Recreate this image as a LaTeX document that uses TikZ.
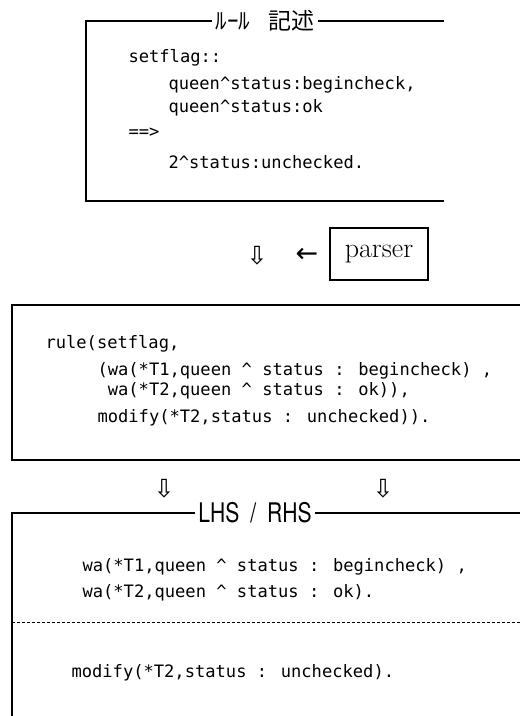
\documentclass[tikz,border=0pt]{standalone}
\usepackage{fontspec}
\newfontfamily\codefont{DejaVu Sans Mono}
\newfontfamily\jpfont{Noto Sans CJK JP}
\newfontfamily\symfont{DejaVu Sans}
\newfontfamily\headfont[FakeStretch=0.78]{TeX Gyre Heros}
\begin{document}
\begin{tikzpicture}[x=1bp,y=-1bp,line width=1.1bp,
  code/.style={anchor=base west,inner sep=0pt,
    font=\codefont\fontsize{17.1bp}{20bp}\selectfont},
  boxtitle/.style={inner sep=3bp},
  glyph/.style={inner sep=0pt,font=\symfont\fontsize{25bp}{27bp}\selectfont},
  sep/.style={line width=0.8bp,dash pattern=on 3bp off 2bp}]
\useasboundingbox (0,0) rectangle (520,716);

% rule description box (open on the right)
\node[boxtitle,font=\jpfont\fontsize{23bp}{25bp}\selectfont] (ruletitle) at (265,21) {ﾙｰﾙ\hspace{0.8em}記述};
\coordinate (r1) at (444,21);
\coordinate (r2) at (86,21);
\coordinate (r3) at (86,201);
\coordinate (r4) at (444,201);
\draw (ruletitle.east |- r1) -- (r1);
\draw (ruletitle.west |- r2) -- (r2) -- (r3) -- (r4);

\node[code] (s1) at (128,63)  {setflag::};
\node[code] (s2) at (168,90)  {queen\^{}status:begincheck,};
\node[code] (s3) at (168,113) {queen\^{}status:ok};
\node[code] (s4) at (128,138) {==>};
\node[code] (s5) at (168,168) {2\^{}status:unchecked.};

% parser step
\node[glyph] (down0) at (257,256) {⇩};
\node[glyph,font=\symfont\fontsize{27bp}{29bp}\selectfont] (left0) at (307,255) {←};
\node[draw,minimum width=98bp,minimum height=52bp,inner sep=0pt,
      font=\fontsize{28bp}{30bp}\selectfont] (parser) at (379,254) {parser};

% parsed rule box
\coordinate (m1) at (520,305);
\coordinate (m2) at (12,305);
\coordinate (m3) at (12,460);
\coordinate (m4) at (520,460);
\draw (m1) -- (m2) -- (m3) -- (m4);

\node[code] (p1) at (45,348)  {rule(setflag,};
\node[code] (p2) at (97,375)  {(wa(*T1,queen \^{} status : begincheck) ,};
\node[code] (p3) at (97,395)  {\ wa(*T2,queen \^{} status : ok)),};
\node[code] (p4) at (97,422)  {modify(*T2,status : unchecked)).};

% split into both sides
\node[glyph] (down1) at (164,489) {⇩};
\node[glyph] (down2) at (383,489) {⇩};

% LHS / RHS box
\node[boxtitle,font=\headfont\fontsize{27bp}{29bp}\selectfont] (lrtitle) at (255,513)
  {LHS\hspace{11bp}/\hspace{11bp}RHS};
\coordinate (b1) at (520,513);
\coordinate (b2) at (12,513);
\coordinate (b3) at (12,716);
\draw (lrtitle.east |- b1) -- (b1);
\draw (lrtitle.west |- b2) -- (b2) -- (b3);
\coordinate (d1) at (12,622);
\coordinate (d2) at (520,622);
\draw[sep] (d1) -- (d2);

\node[code] (l1) at (82,571) {wa(*T1,queen \^{} status : begincheck) ,};
\node[code] (l2) at (82,597) {wa(*T2,queen \^{} status : ok).};
\node[code] (rr) at (71,677) {modify(*T2,status : unchecked).};
\end{tikzpicture}
\end{document}
